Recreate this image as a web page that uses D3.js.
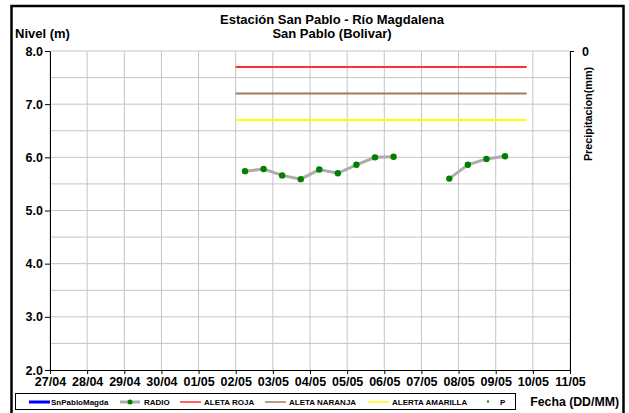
<!DOCTYPE html>
<html><head><meta charset="utf-8">
<script src="https://cdn.jsdelivr.net/npm/d3@7"></script>
<style>
body{margin:0;background:#fff;}
text{font-family:"Liberation Sans",Arial,sans-serif;font-weight:bold;fill:#000;}
</style></head>
<body><svg id="c" width="629" height="413"></svg>
<script>
// ---- data ----
const tickLabels = ["27/04","28/04","29/04","30/04","01/05","02/05","03/05","04/05","05/05","06/05","07/05","08/05","09/05","10/05","11/05"];
const yTicks = [2.0,3.0,4.0,5.0,6.0,7.0,8.0];
const rightTicks = [0];
const radioTimes = ["02/05 06:00","02/05 18:00","03/05 06:00","03/05 18:00","04/05 06:00","04/05 18:00","05/05 06:00","05/05 18:00","06/05 06:00","06/05 18:00","07/05 06:00","07/05 18:00","08/05 06:00","08/05 18:00","09/05 06:00"];
const radioValues = [5.74,5.78,5.66,5.59,5.77,5.70,5.86,6.00,6.01,null,null,5.60,5.86,5.97,6.02];
const thresholdStart = "02/05 00:00";
const thresholdEnd = "09/05 20:00";
const alertNames = ["ALETA ROJA","ALETA NARANJA","ALERTA AMARILLA"];
const alertValues = [7.7,7.2,6.7];
const alertColors = ["#ff3030","#a47c5c","#ffff00"];
const legendNames = ["SnPabloMagda","RADIO","ALETA ROJA","ALETA NARANJA","ALERTA AMARILLA","P"];

const year = 2014;
function parseT(s){
  const [d,t] = s.split(" ");
  const [dd,mm] = d.split("/").map(Number);
  const [hh,mi] = (t||"00:00").split(":").map(Number);
  return new Date(year, mm-1, dd, hh, mi);
}

const svg = d3.select("#c");
const L=50, R=570, T=51, B=370;
const x = d3.scaleTime().domain([parseT(tickLabels[0]), parseT(tickLabels[tickLabels.length-1])]).range([L,R]);
const y = d3.scaleLinear().domain([2,8]).range([B,T]);

// outer frame
svg.append("rect").attr("x",11.5).attr("y",6).attr("width",612).attr("height",420)
  .attr("fill","none").attr("stroke","#000").attr("stroke-width",2.5);

// grid
const g = svg.append("g");
const dayTicks = tickLabels.map(parseT);
g.selectAll("line.v").data(dayTicks).join("line")
  .attr("x1",d=>x(d)).attr("x2",d=>x(d)).attr("y1",T).attr("y2",B)
  .attr("stroke","#c4c4c4").attr("stroke-width",1);
const hVals = d3.range(2.5,8.01,0.5);
g.selectAll("line.h").data(hVals).join("line")
  .attr("x1",L).attr("x2",R).attr("y1",d=>y(d)).attr("y2",d=>y(d))
  .attr("stroke","#c4c4c4").attr("stroke-width",1);

// axes
const xAxis = d3.axisBottom(x).tickValues(dayTicks).tickFormat((d,i)=>tickLabels[i]).tickSize(4).tickSizeOuter(0);
const xa = svg.append("g").attr("transform",`translate(0,${B})`).call(xAxis);
xa.selectAll("text").attr("dy","0").attr("y",16).style("font-size","12.5px");
const yAxis = d3.axisLeft(y).tickValues(yTicks).tickFormat(d3.format(".1f")).tickSize(5).tickSizeOuter(0);
const ya = svg.append("g").attr("transform",`translate(${L},0)`).call(yAxis);
ya.selectAll("text").attr("x",-7).style("font-size","12.5px");
const y2 = d3.scaleLinear().domain([0,1]).range([T,B]);
const ya2 = svg.append("g").attr("transform",`translate(${R},0)`).call(d3.axisRight(y2).tickValues(rightTicks).tickFormat(d3.format("d")).tickSize(4).tickSizeOuter(0));
ya2.selectAll("text").attr("x",12).style("font-size","12.5px");
svg.selectAll(".domain, .tick line").attr("stroke","#000");
svg.selectAll(".tick text").style("font-family","'Liberation Sans',Arial,sans-serif").style("font-weight","bold");

// thresholds
alertValues.forEach((v,i)=>{
  svg.append("line").attr("x1",x(parseT(thresholdStart))).attr("x2",x(parseT(thresholdEnd)))
    .attr("y1",y(v)).attr("y2",y(v)).attr("stroke",alertColors[i]).attr("stroke-width",2);
});

// radio line
const pts = radioTimes.map((t,i)=>({t:parseT(t),v:radioValues[i]}));
svg.append("path").datum(pts)
  .attr("d",d3.line().defined(d=>d.v!=null).x(d=>x(d.t)).y(d=>y(d.v)))
  .attr("fill","none").attr("stroke","#acacac").attr("stroke-width",3);
svg.selectAll("circle.p").data(pts.filter(d=>d.v!=null)).join("circle")
  .attr("cx",d=>x(d.t)).attr("cy",d=>y(d.v)).attr("r",3.2).attr("fill","#008000");

// titles
svg.append("text").attr("x",332).attr("y",24).attr("text-anchor","middle").style("font-size","13px").text("Estación San Pablo - Río Magdalena");
svg.append("text").attr("x",332).attr("y",38).attr("text-anchor","middle").style("font-size","13px").text("San Pablo (Bolivar)");
svg.append("text").attr("x",15).attr("y",38).style("font-size","13px").text("Nivel (m)");
svg.append("text").attr("transform","translate(592,114) rotate(-90)").attr("text-anchor","middle").style("font-size","10.8px").text("Precipitacion(mm)");
svg.append("text").attr("x",619).attr("y",406).attr("text-anchor","end").style("font-size","12.3px").text("Fecha (DD/MM)");

// legend
svg.append("rect").attr("x",15.5).attr("y",393.5).attr("width",500).attr("height",16)
  .attr("fill","#fff").attr("stroke","#000").attr("stroke-width",1);
const ly = 402;
const lg = svg.append("g");
// SnPabloMagda
lg.append("line").attr("x1",29).attr("x2",50).attr("y1",ly).attr("y2",ly).attr("stroke","#0000ff").attr("stroke-width",3);
lg.append("text").attr("x",51).attr("y",ly+3).style("font-size","8px").text(legendNames[0]);
// RADIO
lg.append("line").attr("x1",120).attr("x2",140).attr("y1",ly).attr("y2",ly).attr("stroke","#acacac").attr("stroke-width",3);
lg.append("circle").attr("cx",130).attr("cy",ly).attr("r",2.5).attr("fill","#008000");
lg.append("text").attr("x",144).attr("y",ly+3).style("font-size","8px").text(legendNames[1]);
// alerts
const alertLegX = [180,265,368];
alertNames.forEach((n,i)=>{
  lg.append("line").attr("x1",alertLegX[i]).attr("x2",alertLegX[i]+21).attr("y1",ly).attr("y2",ly).attr("stroke",alertColors[i]).attr("stroke-width",1.5);
  lg.append("text").attr("x",alertLegX[i]+24).attr("y",ly+3).style("font-size","8px").text(legendNames[2+i]);
});
// P
lg.append("rect").attr("x",487).attr("y",ly-1.5).attr("width",2).attr("height",2).attr("fill","#008000");
lg.append("text").attr("x",500).attr("y",ly+3).style("font-size","8px").text(legendNames[5]);
</script></body></html>
